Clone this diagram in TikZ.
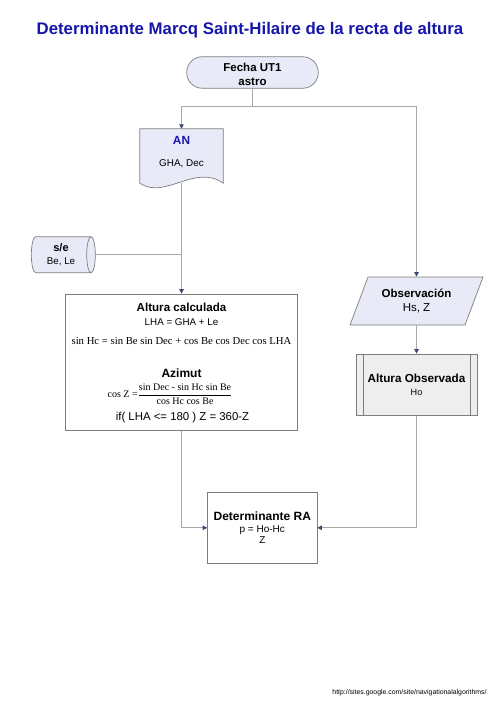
\documentclass[tikz,border=0pt]{standalone}
\usepackage{fontspec}
\setmainfont{Liberation Sans}
\newfontfamily\eqfont{Liberation Serif}
\usetikzlibrary{shapes.geometric,arrows.meta,backgrounds}

\definecolor{titleblue}{RGB}{22,22,170}
\definecolor{docfill}{RGB}{232,235,247}
\definecolor{procgray}{RGB}{238,238,238}
\definecolor{edgegray}{RGB}{125,125,125}
\definecolor{wiregray}{RGB}{168,168,168}
\definecolor{tipblue}{RGB}{58,74,115}

\newcommand{\fsize}[2]{\fontsize{#1pt}{#2pt}\selectfont}

\begin{document}
\begin{tikzpicture}
		[
			x=1pt, y=-1pt,
			% Outline and fill of the flowchart boxes.
			box/.style={draw=edgegray, line width=0.7pt, fill=docfill, align=center, inner sep=0pt},
			% A bare line of text, placed on its baseline.
			txt/.style={anchor=base, inner sep=0pt},
			% Plain connector, and one with an arrow head.
			wire/.style={draw=wiregray, line width=0.7pt},
			link/.style={wire, -{Triangle[length=4.5pt, width=4.5pt, color=tipblue]}}
		]
			\useasboundingbox (0,0) rectangle (500,708);

			\node[txt, font=\bfseries\fsize{16.8}{20}, text=titleblue] (title) at (250,34.3)
				{Determinante Marcq Saint-Hilaire de la recta de altura};

			% Start and the two inputs.
			\node[box, rounded corners=15.5pt, minimum width=131.5pt, minimum height=31.5pt,
				font=\bfseries\fsize{11.5}{13.7}] (fecha) at (252.5,72.5) {\rule{0pt}{11.5pt}Fecha UT1\\astro};

			\node[minimum width=83pt, minimum height=54pt, inner sep=0pt] (an) at (181.5,156) {};
			\draw[box] (an.south west) -- (an.north west) -- (an.north east) -- (an.south east)
				.. controls +(-28,-20) and +(25,17) .. (an.south west) -- cycle;
			\node[txt, font=\bfseries\fsize{11.8}{14}, text=titleblue] (antitle) at (181.5,145) {AN};
			\node[txt, font=\fsize{9.9}{12}] (anvars) at (181.5,166.5) {GHA, Dec};

			\node[box, cylinder, aspect=0.4, minimum width=36pt, minimum height=64pt,
				font=\fsize{9.8}{12.3}] (se) at (61,254.7) {{\bfseries\fsize{11}{12.3}s/e}\\Be, Le};

			% Altura calculada.
			\node[box, fill=white, minimum width=232pt, minimum height=136pt] (calc) at (181.5,362) {};
			\node[txt, font=\bfseries\fsize{11.6}{14}] (calchead) at (181.5,311.5) {Altura calculada};
			\node[txt, font=\fsize{9.8}{12}] (lha) at (181.5,325.7) {LHA = GHA + Le};
			\node[txt, font=\eqfont\fsize{10.7}{12}] (sinhc) at (181.5,344.7)
				{sin Hc = sin Be sin Dec + cos Be cos Dec cos LHA};
			\node[txt, font=\bfseries\fsize{12}{14}] (azhead) at (181.5,377) {Azimut};
			\node[inner sep=0pt, font=\eqfont\fsize{10}{12}] (cosz) at (170,394)
				{cos Z =$\displaystyle\frac{\mbox{sin Dec - sin Hc sin Be}}{\mbox{cos Hc cos Be}}$};
			\node[txt, font=\fsize{11.4}{14}] (ifline) at (182.5,420.7) {if( LHA <= 180 ) Z = 360-Z};

			% Observation side.
			\node[box, trapezium, trapezium left angle=61, trapezium right angle=119, trapezium stretches=true,
				minimum width=134pt, minimum height=48pt, font=\fsize{11.5}{13.4}] (obs) at (416.5,301)
				{{\bfseries Observación}\\Hs, Z};

			\node[box, fill=procgray, minimum width=121pt, minimum height=61pt,
				font=\fsize{9.1}{12.7}] (aobs) at (416.5,384.5) {{\bfseries\fsize{11.7}{12.7}Altura Observada}\\Ho};
			\draw[draw=edgegray, line width=0.7pt]
				([xshift=7.5pt]aobs.north west) -- ([xshift=7.5pt]aobs.south west)
				([xshift=-7.5pt]aobs.north east) -- ([xshift=-7.5pt]aobs.south east);

			% Result.
			\node[box, fill=white, minimum width=109.5pt, minimum height=70.5pt,
				font=\fsize{10}{11.7}] (ra) at (262.3,527.8) {{\bfseries\fsize{12}{11.7}Determinante RA}\\p = Ho-Hc\\Z};

			\node[txt, font=\fsize{6.9}{8}] (url) at (409.5,694) {http://sites.google.com/site/navigationalalgorithms/};

			% Connectors go under the boxes.
			\begin{scope}[on background layer]
				\coordinate (fork) at (252.5,106);
				\draw[wire] (fecha.south) -- (fork);
				\draw[link] (fork) -| (an.north);
				\draw[link] (fork) -| (obs.north);
				\draw[link] (an.south) -- (calc.north);
				\draw[wire] (se.east) -- (se.east -| an.south);
				\draw[link] (obs.south) -- (aobs.north);
				\draw[link] (calc.south) |- (ra.west);
				\draw[link] (aobs.south) |- (ra.east);
			\end{scope}
		\end{tikzpicture}
\end{document}
